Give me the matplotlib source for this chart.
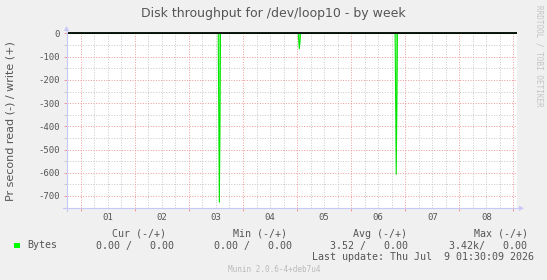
import matplotlib
matplotlib.use("Agg")
import matplotlib.pyplot as plt
import matplotlib.dates as mdates
from matplotlib.patches import Polygon, Rectangle
from matplotlib.lines import Line2D
import pandas as pd

# ---------------- data ----------------
title = "Disk throughput for /dev/loop10 - by week"
ylabel = "Pr second read (-) / write (+)"
sample_times = ['2026-06-30 17:30', '2026-07-03 13:00', '2026-07-03 13:30', '2026-07-03 14:00',
                '2026-07-05 00:30', '2026-07-05 01:00', '2026-07-05 01:30',
                '2026-07-06 19:30', '2026-07-06 20:00', '2026-07-06 20:30', '2026-07-09 01:30']
read_values = [0, 0, -727, 0, 0, -66, 0, 0, -606, 0, 0]
write_values = [0, 0, 0, 0, 0, 0, 0, 0, 0, 0, 0]
x_start = '2026-06-30 17:40'
x_end = '2026-07-09 01:30'
day_labels = ['01', '02', '03', '04', '05', '06', '07', '08']
day_label_times = ['2026-07-0%d 12:00' % d for d in range(1, 9)]
midnights = ['2026-07-0%d 00:00' % d for d in range(1, 10)]
y_major = [0, -100, -200, -300, -400, -500, -600, -700]
y_minor = [-50, -150, -250, -350, -450, -550, -650]
y_limits = (-753, 5)
legend_headers = ['Cur (-/+)', 'Min (-/+)', 'Avg (-/+)', 'Max (-/+)']
legend_name = 'Bytes'
legend_values = ['0.00 /   0.00', '0.00 /   0.00', '3.52 /   0.00', '3.42k/   0.00']
last_update = 'Last update: Thu Jul  9 01:30:09 2026'
munin_ver = 'Munin 2.0.6-4+deb7u4'
watermark = 'RRDTOOL / TOBI OETIKER'

# ---------------- style ----------------
W, H = 547, 280
BG = '#F0F0F0'
TXT = '#555555'
RED = '#F09C9C'
GRAY = '#CACACA'
AXC = '#C8C8F8'
GREEN_LINE = '#00E400'
GREEN_FILL = '#80FF80'
MONO = 'DejaVu Sans Mono'
SANS = 'DejaVu Sans'

def fx(x):
    return x / W

def fy(y):
    return 1 - y / H

fig = plt.figure(figsize=(W / 100, H / 100), dpi=100, facecolor=BG)
L, R, T, B = 66.5, 516.8, 32.3, 208.3
ax = fig.add_axes([fx(L), fy(B), (R - L) / W, (B - T) / H])
ax.set_facecolor('white')
for s in ax.spines.values():
    s.set_visible(False)

t = mdates.date2num(pd.to_datetime(sample_times))
x0 = mdates.date2num(pd.Timestamp(x_start))
x1 = mdates.date2num(pd.Timestamp(x_end))
ax.set_xlim(x0, x1)
ax.set_ylim(*y_limits)

# grid
mid = mdates.date2num(pd.to_datetime(midnights))
six = mdates.date2num(pd.date_range('2026-06-30 18:00', '2026-07-09 00:00', freq='6h'))
six = [v for v in six if min(abs(v - m) for m in mid) > 0.01]
dot = (0, (1, 1.6))
for v in six:
    ax.axvline(v, color=GRAY, lw=0.72, ls=dot, zorder=1)
for v in y_minor:
    ax.axhline(v, color=GRAY, lw=0.72, ls=dot, zorder=1)
for v in mid:
    ax.axvline(v, color=RED, lw=0.72, ls=dot, zorder=1.5)
for v in y_major:
    ax.axhline(v, color=RED, lw=0.72, ls=dot, zorder=1.5)

# data
ax.fill_between(t, read_values, 0, color=GREEN_FILL, lw=0, zorder=2)
ax.plot(t, read_values, color=GREEN_LINE, lw=0.8, zorder=3)
ax.plot(t, write_values, color=GREEN_LINE, lw=0.4, zorder=2.5)
ax.axhline(0, color='black', lw=1.3, zorder=4)

# ticks
ax.set_xticks(mdates.date2num(pd.to_datetime(day_label_times)))
ax.set_xticklabels(day_labels)
ax.set_xticks(mid, minor=True)
ax.tick_params(axis='x', which='major', length=0, pad=3.2, labelsize=6.5,
               labelcolor=TXT)
ax.tick_params(axis='x', which='minor', length=2, width=0.72, color=RED)
ax.set_yticks(y_major)
ax.set_yticklabels([str(v) for v in y_major])
ax.set_yticks(y_minor, minor=True)
ax.tick_params(axis='y', which='major', length=2, width=0.72, color=RED,
               pad=3.0, labelsize=6.5, labelcolor=TXT)
ax.tick_params(axis='y', which='minor', length=2, width=0.72, color=GRAY)
for lab in ax.get_xticklabels() + ax.get_yticklabels():
    lab.set_family(MONO)

# axes with arrows
fig.add_artist(Line2D([fx(63), fx(519)], [fy(B), fy(B)], color=AXC, lw=0.8))
fig.add_artist(Polygon([[fx(519), fy(B - 2.6)], [fx(519), fy(B + 2.6)], [fx(524), fy(B)]],
                       closed=True, color=AXC, lw=0))
fig.add_artist(Line2D([fx(L), fx(L)], [fy(211), fy(31)], color=AXC, lw=0.8))
fig.add_artist(Polygon([[fx(L - 2.6), fy(31)], [fx(L + 2.6), fy(31)], [fx(L), fy(26)]],
                       closed=True, color=AXC, lw=0))

# texts
fig.text(fx(273.5), fy(13), title, family=SANS, size=9.0, color=TXT, ha='center', va='center')
fig.text(fx(11), fy(121), ylabel, family=SANS, size=8.0, color=TXT, rotation=90,
         ha='center', va='center')
fig.text(fx(539), fy(5), watermark, family=MONO, size=5.5, color='#C4C4C4', rotation=270,
         ha='center', va='top')

hdr_x = [111.7, 232.7, 353.0, 473.8]
val_x = [95.6, 213.5, 330.4, 449.0]
for h, x in zip(legend_headers, hdr_x):
    fig.text(fx(x), fy(234), h, family=MONO, size=7.2, color=TXT, ha='left', va='center')
for v, x in zip(legend_values, val_x):
    fig.text(fx(x), fy(245.5), v, family=MONO, size=7.2, color=TXT, ha='left', va='center')
fig.text(fx(26.9), fy(245.5), legend_name, family=MONO, size=7.2, color=TXT, ha='left', va='center')
fig.add_artist(Rectangle((fx(14), fy(248)), 5.5 / W, 5.5 / H, color='#00FF00', lw=0))
fig.text(fx(311.6), fy(257), last_update, family=MONO, size=7.2, color=TXT, ha='left', va='center')
fig.text(fx(274), fy(269), munin_ver, family=MONO, size=5.5, color='#BBBBBB', ha='center', va='center')

fig.savefig('out.png', dpi=100, facecolor=BG)
